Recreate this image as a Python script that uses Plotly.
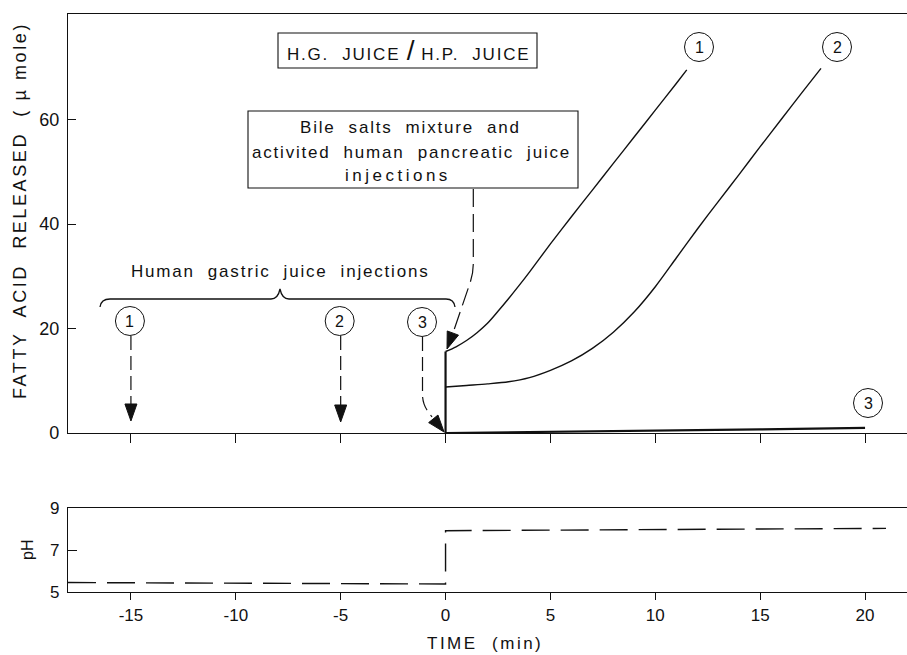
import plotly.graph_objects as go

# ---- data -------------------------------------------------------------
# fatty acid released (µmole) after the pancreatic juice injection at t = 0
t_curve1 = [0, 0.5, 1, 1.5, 2, 2.5, 3, 3.5, 4, 5, 6, 7, 8, 9, 10, 11, 11.5]
fa_curve1 = [15.6, 16.5, 17.7, 19.2, 21.0, 23.3, 25.7, 28.2, 30.8, 36.2, 41.4,
             46.5, 51.6, 56.7, 61.8, 66.9, 69.5]

t_curve2 = [0, 1, 2, 3, 4, 5, 6, 7, 8, 9, 10, 11, 12, 13, 14, 15, 16, 17, 17.9]
fa_curve2 = [8.8, 9.1, 9.4, 9.8, 10.6, 12.0, 13.8, 16.2, 19.3, 23.2, 28.0, 33.5,
             39.0, 44.3, 49.5, 54.8, 60.0, 65.2, 69.8]

t_curve3 = [0, 5, 10, 15, 20]
fa_curve3 = [0, 0.2, 0.45, 0.7, 1.0]

# pH record
t_ph = [-18, 0, 0, 21]
ph = [5.45, 5.38, 7.92, 8.03]

time_ticks = [-15, -10, -5, 0, 5, 10, 15, 20]
time_ticktext = ["-15", "-10", "-5", "0", "5", "10", "15", "20"]
fa_ticks = [0, 20, 40, 60]
ph_ticks = [5, 7, 9]

# injection times of the gastric juice (curves 1, 2, 3)
inject_times = [-15, -5, 0]

# ---- geometry ---------------------------------------------------------
W, H = 907, 655
L, R, T, B = 68, 907, 14, 592          # plot area in pixels
XMIN, XMAX = -18, 22
TOP_BOTTOM_PX = 433                     # bottom edge of the upper panel
PH_TOP_PX = 508                         # top edge of the pH panel
FONT = "Liberation Sans, Arial, Helvetica, sans-serif"
INK = "#111111"


def xp(px):
    return (px - L) / (R - L)


def yp(py):
    return (B - py) / (B - T)


def tpx(t):
    return L + (t - XMIN) / (XMAX - XMIN) * (R - L)


def pt(x, y):
    return f"{xp(x):.5f},{yp(y):.5f}"


def spaced(s, ls):
    return f'<span style="letter-spacing:{ls}px">{s}</span>'


def arrow_head(tip, frm, length=17, half=6):
    dx, dy = tip[0] - frm[0], tip[1] - frm[1]
    n = (dx * dx + dy * dy) ** 0.5
    ux, uy = dx / n, dy / n
    bx, by = tip[0] - ux * length, tip[1] - uy * length
    px_, py_ = -uy * half, ux * half
    path = (f"M {pt(*tip)} L {pt(bx + px_, by + py_)} "
            f"L {pt(bx - px_, by - py_)} Z")
    return dict(type="path", xref="paper", yref="paper", path=path,
                fillcolor=INK, line=dict(color=INK, width=1))


def dashed(path, dash="14px,6px", width=1.2):
    return dict(type="path", xref="paper", yref="paper", path=path,
                line=dict(color=INK, width=width, dash=dash))


def circle(cx, cy, r=14.5):
    return dict(type="circle", xref="paper", yref="paper",
                x0=xp(cx - r), x1=xp(cx + r), y0=yp(cy + r), y1=yp(cy - r),
                line=dict(color=INK, width=1))


def rect(x0, y0, x1, y1):
    return dict(type="rect", xref="paper", yref="paper",
                x0=xp(x0), x1=xp(x1), y0=yp(y1), y1=yp(y0),
                line=dict(color=INK, width=1.1))


def label(x, y, text, size=17, angle=0):
    return dict(x=xp(x), y=yp(y), xref="paper", yref="paper", text=text,
                showarrow=False, textangle=angle, xanchor="center",
                yanchor="middle", font=dict(family=FONT, size=size, color=INK))


# ---- traces -----------------------------------------------------------
fig = go.Figure()
line_style = dict(color=INK, width=1.4, shape="spline", smoothing=0.8)
# jump of the titration at the pancreatic injection
fig.add_trace(go.Scatter(x=[t_curve1[0], t_curve1[0]], y=[fa_curve3[0], fa_curve1[0]],
                         mode="lines", line=dict(color=INK, width=2.2),
                         xaxis="x", yaxis="y"))
fig.add_trace(go.Scatter(x=t_curve1, y=fa_curve1, mode="lines", line=line_style,
                         xaxis="x", yaxis="y"))
fig.add_trace(go.Scatter(x=t_curve2, y=fa_curve2, mode="lines", line=line_style,
                         xaxis="x", yaxis="y"))
fig.add_trace(go.Scatter(x=t_curve3, y=fa_curve3, mode="lines",
                         line=dict(color=INK, width=2.2), xaxis="x", yaxis="y"))
fig.add_trace(go.Scatter(x=t_ph, y=ph, mode="lines",
                         line=dict(color=INK, width=1.4, dash="28px,11px"),
                         xaxis="x2", yaxis="y2"))

# ---- decorations ------------------------------------------------------
shapes = []
annotations = []

# injection circles and dashed arrows for the gastric juice
circ_y = 321
for i, t0 in enumerate(inject_times[:2]):
    x = tpx(t0)
    shapes.append(circle(x - 1, circ_y))
    annotations.append(label(x - 1, circ_y + 0.5, str(i + 1), size=16))
    shapes.append(dashed(f"M {pt(x, 336)} L {pt(x, 405)}"))
    shapes.append(arrow_head((x, 421 + i), (x, 400)))

x3 = tpx(inject_times[2])
shapes.append(circle(422, circ_y + 1))
annotations.append(label(422, circ_y + 1.5, "3", size=16))
shapes.append(dashed(f"M {pt(422.5, 337)} L {pt(422.5, 396)} "
                     f"Q {pt(423, 404)} {pt(427, 410)} L {pt(432, 417)}"))
shapes.append(arrow_head((x3 - 1.5, 432), (431, 416)))

# brace over the gastric injections
brace = (f"M {pt(100, 307)} Q {pt(101, 299)} {pt(110, 299)} "
         f"L {pt(271, 299)} Q {pt(278, 299)} {pt(280, 289)} "
         f"Q {pt(282, 299)} {pt(289, 299)} "
         f"L {pt(446, 299)} Q {pt(454, 299)} {pt(455, 307)}")
shapes.append(dict(type="path", xref="paper", yref="paper", path=brace,
                   line=dict(color=INK, width=1.3)))
annotations.append(label(280, 271, spaced("Human  gastric  juice  injections", 1.8)))

# pancreatic juice injection box and arrow
shapes.append(rect(248, 111, 578, 188))
annotations.append(label(410, 127, spaced("Bile  salts  mixture  and", 1.8)))
annotations.append(label(411, 152, spaced("activited  human  pancreatic  juice", 1.8)))
annotations.append(label(398, 176, spaced("injections", 3.5)))
bile = (f"M {pt(473.3, 189)} L {pt(473.3, 262)} "
        f"Q {pt(473.5, 273)} {pt(470, 283)} L {pt(453, 333)}")
shapes.append(dashed(bile, dash="18px,7px"))
shapes.append(arrow_head((447, 349), (454, 330)))

# title box
shapes.append(rect(278, 33, 537, 68))
annotations.append(label(408, 50.5,
                         spaced("H.G.  JUICE ", 1.8)
                         + '<span style="font-size:28px">/</span>'
                         + spaced(" H.P.  JUICE", 1.8)))

# curve labels
for n, (cx, cy) in zip(["1", "2", "3"], [(699, 47), (837, 47), (868, 403)]):
    shapes.append(circle(cx, cy))
    annotations.append(label(cx, cy + 0.5, n, size=16))

# axis titles
annotations.append(label(20, 211, spaced("FATTY  ACID  RELEASED  ( µ mole)", 2.6),
                         size=18, angle=-90))
annotations.append(label(27, 550, "pH", size=16, angle=-90))
annotations.append(label(485, 643, spaced("TIME  (min)", 2.5), size=17))

# ---- layout -----------------------------------------------------------
axis_common = dict(showgrid=False, zeroline=False, showline=True, linecolor=INK,
                   linewidth=1.2, tickcolor=INK, tickwidth=1.2, automargin=False,
                   tickfont=dict(family=FONT, size=18, color=INK))

fig.update_layout(
    width=W, height=H, autosize=False,
    margin=dict(l=L, r=W - R, t=T, b=H - B, pad=0),
    paper_bgcolor="white", plot_bgcolor="white",
    showlegend=False,
    xaxis=dict(axis_common, domain=[0, 1], anchor="y", range=[XMIN, XMAX],
               tickvals=time_ticks, showticklabels=False, ticks="outside",
               ticklen=9, mirror=True),
    yaxis=dict(axis_common, domain=[yp(TOP_BOTTOM_PX), 1], anchor="x",
               range=[0, 80.2], tickvals=fa_ticks, ticks="inside", ticklen=8,
               ticklabelstandoff=4),
    xaxis2=dict(axis_common, domain=[0, 1], anchor="y2", range=[XMIN, XMAX],
                tickvals=time_ticks, ticktext=time_ticktext, ticks="outside",
                ticklen=7, mirror=True,
                tickfont=dict(family=FONT, size=17, color=INK)),
    yaxis2=dict(axis_common, domain=[0, yp(PH_TOP_PX)], anchor="x2",
                range=[5, 9], tickvals=ph_ticks, ticks="inside", ticklen=9,
                ticklabelstandoff=4,
                tickfont=dict(family=FONT, size=17, color=INK)),
    shapes=shapes,
    annotations=annotations,
)

fig.write_html("out.html")
